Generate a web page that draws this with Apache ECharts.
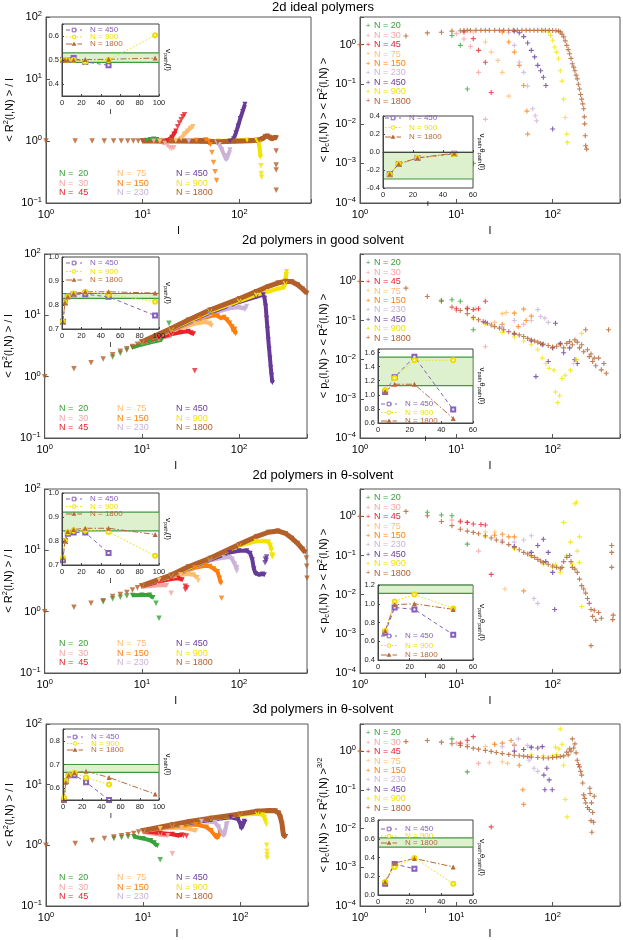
<!DOCTYPE html>
<html>
<head>
<meta charset="UTF-8">
<title>polymer contact scaling</title>
<style type="text/css">
  html, body { margin: 0; padding: 0; background: #fff; }
  #main { width: 623px; height: 940px; }
</style>
</head>
<body>
<div id="main"></div>
<script src="https://cdn.jsdelivr.net/npm/echarts@6/dist/echarts.min.js"></script>
<script type="text/javascript">
// ---------- data ----------
var Ns = [20, 30, 45, 75, 150, 230, 450, 900, 1800];
var legendL = ['N =  20', 'N =  30', 'N =  45', 'N =  75', 'N = 150', 'N = 230', 'N = 450', 'N = 900', 'N = 1800'];
var legendR = ['N = 20', 'N = 30', 'N = 45', 'N = 75', 'N = 150', 'N = 230', 'N = 450', 'N = 900', 'N = 1800'];
var insetNames = ['N = 450', 'N = 900', 'N = 1800'];
var titles = ['2d ideal polymers', '2d polymers in good solvent', '2d polymers in \u03b8-solvent', '3d polymers in \u03b8-solvent'];

// 2d ideal : <R2>/l  (dense part drawn as thick line, sparse points as scatter)
var idealLine = [
  [[10,1.0],[11,1.03],[12,1.06],[13,1.08],[14,1.06]],
  [[10,1.0],[13,1.0],[15,0.98],[17,0.92]],
  [[10,1.0],[15,1.0],[18,1.02],[20,1.15],[21,1.3],[22,1.45]],
  [[15,1.0],[22,1.02],[25,1.1],[27,1.3],[29,1.45],[31,1.6],[33,1.72]],
  [[20,1.0],[36,1.03],[45,1.05],[48,1.0],[50,0.88]],
  [[30,1.0],[58,0.97],[62,0.88],[66,0.72],[70,0.58],[73,0.5],[76,0.58],[80,0.72]],
  [[40,1.0],[80,1.0],[87,1.08],[92,1.35],[97,1.75],[102,2.3],[108,3.0],[114,3.9]],
  [[60,1.0],[120,1.04],[150,1.05],[158,0.95],[162,0.75],[165,0.55]],
  [[10,1.0],[20,1.0],[40,0.99],[60,0.97],[90,0.99],[130,1.01],[160,1.04],[175,1.1],[185,1.18],[195,1.2],[205,1.15],[215,1.08],[225,1.12],[235,1.14],[242,1.12]]
];
var idealPts = [
  [],
  [[18,0.85],[19,0.78],[20,0.76],[21,0.78]],
  [[23,1.7],[24,1.95],[25,2.2],[26,2.45],[27,2.65]],
  [],
  [[52,0.65],[54,0.45],[56,0.32],[58,0.23]],
  [],
  [],
  [[167,0.4],[168,0.3],[170,0.26]],
  [[1,1],[2,1],[3,1],[4,1],[5,1],[6,1],[7,1],[8,1],[9,1],[240,0.69],[240,0.41],[240,0.34],[240,0.16]]
];
var idealCross = [
  [[9,1.7],[11,0.96],[13,0.076],[15,0.001]],
  [[10,1.9],[12,1.4],[14,0.9],[17,0.2],[20,0.013]],
  [[12,2.1],[15,1.42],[17,0.72],[20,0.36],[23,0.062]],
  [[15,2.1],[20,1.17],[23,0.65],[27,0.4],[30,0.2],[35,0.05]],
  [[30,2.1],[35,1.17],[40,0.65],[45,0.3],[50,0.093],[54,0.021],[55,0.0055]],
  [[35,2.0],[40,0.96],[45,0.36],[50,0.2],[55,0.09],[62,0.024],[66,0.016],[68,0.012]],
  [[40,2.2],[45,2.0],[50,1.6],[55,1.1],[60,0.72],[65,0.49],[70,0.3],[75,0.22],[80,0.15],[85,0.093],[100,0.0074]],
  [[80,2.2],[90,2.1],[95,1.7],[100,1.29],[105,0.87],[110,0.65],[115,0.44],[120,0.22],[125,0.12],[130,0.042],[135,0.0145],[140,0.0055],[142,0.0034]],
  [[1,1.0],[3,1.66],[5,1.98],[7,2.06],[9,2.2],[11,2.25],[12,2.28],[13,2.3],[14,2.3],[16,2.3],[18,2.3],[20,2.3],[22,2.3],[25,2.3],[28,2.3],[31,2.3],[35,2.3],[39,2.3],[43,2.3],[48,2.3],[53,2.3],[58,2.3],[64,2.3],[70,2.3],[77,2.3],[84,2.3],[92,2.3],[100,2.28],[108,2.25],[115,2.2],[120,2.1],[125,1.85],[130,1.57],[135,1.25],[140,0.96],[145,0.75],[150,0.59],[155,0.45],[160,0.33],[165,0.27],[170,0.22],[175,0.17],[180,0.137],[185,0.1],[190,0.076],[195,0.055],[200,0.042],[205,0.032],[210,0.024],[213,0.015],[215,0.01],[218,0.005],[220,0.0028],[225,0.0023]]
];
var idealNu = [
  [[1,0.5],[3,0.5],[6,0.5],[12,0.508],[24,0.492],[48,0.478]],
  [[1,0.5],[3,0.5],[6,0.5],[12,0.5],[24,0.493],[48,0.5],[96,0.603]],
  [[1,0.5],[3,0.5],[6,0.5],[12,0.5],[24,0.502],[48,0.503],[96,0.508]]
];
var idealNuBand = [0.49, 0.53];
var idealNuTh = [
  [[4.5,-0.246],[10.5,-0.133],[23,-0.066],[47.5,-0.02]],
  [[4.5,-0.25],[10.5,-0.13],[23,-0.065],[47.5,-0.025]],
  [[4.5,-0.246],[10.5,-0.133],[23,-0.066],[47.5,-0.013]]
];
var idealNuThBand = [-0.3, 0.0];

// 2d good solvent
var goodLine = [
  [[8,3.0],[10,3.35],[12,3.6],[14,3.8],[16,4.0]],
  [[10,3.55],[15,4.2],[20,4.7]],
  [[10,3.6],[15,4.3],[20,4.9],[25,5.3],[30,5.5],[32,5.2],[34,5.0]],
  [[10,3.65],[20,5.6],[35,7.3],[45,7.8],[50,7.4],[52,6.8]],
  [[10,3.65],[20,5.7],[40,8.8],[55,10],[60,9.8],[65,9],[70,9.3],[75,8.5],[80,7.5],[85,6.5],[88,5.5],[90,6],[92,5]],
  [[10,3.65],[20,5.8],[50,10.5],[80,13],[100,13.5],[110,13],[115,12.5],[120,14]],
  [[10,3.68],[20,5.8],[50,11],[100,16.5],[150,20],[177,21.7],[183,19],[188,14],[192,9],[196,6],[200,4],[204,2.8],[208,2],[212,1.4],[216,1.05],[220,0.8]],
  [[10,3.68],[20,5.9],[50,11.5],[100,17],[150,21.5],[200,24.5],[250,27],[290,28.5],[298,33],[302,40],[305,46],[308,52]],
  [[10,3.7],[20,6.1],[30,8.4],[50,12.2],[100,18.6],[150,24.5],[200,29.6],[250,33.6],[300,35.8],[350,35.3],[400,31.5],[450,27],[500,23]]
];
var goodPts = [
  [[5,2.1],[6,2.4],[7,2.7],[19,7.4]],
  [],
  [[35,1.25]],
  [], [], [], [], [],
  [[1,1.0],[2,1.34],[3,1.68],[4,1.95],[5,2.27],[6,2.6],[7,2.86],[8,3.1],[9,3.37]]
];
var goodCross = [
  [[7,0.33],[9,0.34],[11,0.31],[13,0.2],[15,0.058]],
  [[10,0.18],[13,0.22],[16,0.2],[20,0.0214]],
  [[10,0.2],[13,0.2],[15,0.19],[17,0.2],[20,0.31]],
  [[25,0.09],[30,0.15],[33,0.16]],
  [[30,0.08],[40,0.154],[44,0.07],[50,0.195],[53,0.1],[60,0.13]],
  [[30,0.07],[40,0.1],[50,0.08],[60,0.1],[70,0.19],[75,0.127],[83,0.115],[90,0.09]],
  [[20,0.09],[40,0.045],[60,0.03],[67,0.0037],[78,0.024],[90,0.009],[100,0.02],[107,0.085],[120,0.026],[130,0.015],[150,0.02],[170,0.01],[180,0.008]],
  [[15,0.11],[20,0.08],[30,0.05],[40,0.038],[50,0.03],[60,0.024],[70,0.018],[78,0.011],[85,0.008],[92,0.006],[103,0.0054],[107,0.0015],[113,0.0008],[118,0.0012],[125,0.0033],[135,0.004],[153,0.0054],[165,0.008],[178,0.01],[200,0.047]],
  [[1,1.0],[3,0.67],[5,0.41],[7,0.31],[9,0.22],[11,0.18],[13,0.15],[15,0.12],[17,0.105],[19,0.094],[21,0.085],[23,0.077],[25,0.07],[28,0.064],[31,0.058],[35,0.052],[40,0.047],[45,0.043],[50,0.039],[55,0.035],[60,0.032],[65,0.03],[70,0.028],[75,0.026],[80,0.025],[90,0.023],[100,0.021],[110,0.022],[120,0.024],[130,0.02],[140,0.026],[150,0.029],[160,0.024],[170,0.032],[180,0.028],[190,0.02],[200,0.024],[210,0.016],[220,0.058],[230,0.018],[240,0.012],[250,0.014],[260,0.009],[270,0.011],[280,0.007],[300,0.011],[320,0.0055],[340,0.008],[360,0.0045],[380,0.058]]
];
var goodNu = [
  [[1,0.73],[3,0.81],[6,0.835],[12,0.845],[24,0.845],[48,0.834],[96,0.756]],
  [[1,0.73],[3,0.81],[6,0.835],[12,0.848],[24,0.855],[48,0.845],[96,0.814]],
  [[1,0.73],[3,0.81],[6,0.835],[12,0.848],[24,0.855],[48,0.855],[96,0.85]]
];
var goodNuBand = [0.828, 0.848];
var goodNuTh = [
  [[4.5,1.04],[10.5,1.25],[23,1.54],[47.5,0.79]],
  [[4.5,1.07],[10.5,1.24],[23,1.49],[47.5,1.49]],
  [[4.5,1.05],[10.5,1.15],[23,1.15],[47.5,0.665]]
];
var goodNuThBand = [1.13, 1.535];

// 2d theta solvent
var thetaLine = [
  [[8,1.85],[10,1.87],[12,1.87],[13,1.7]],
  [[10,2.55],[15,2.7],[18,2.7]],
  [[10,2.6],[15,3.1],[20,3.4],[24,3.5],[26,3.3]],
  [[10,2.62],[15,3.3],[25,4.0],[30,4.1],[34,4.0],[37,3.6]],
  [[10,2.63],[20,3.75],[35,5.2],[45,5.6],[50,5.5],[55,5.0],[60,4.5],[63,3.5],[65,2.9]],
  [[10,2.63],[20,3.8],[50,6.8],[70,7.6],[80,7.8],[85,7.2],[90,6],[95,5.2]],
  [[10,2.64],[20,3.85],[50,7.0],[80,9.2],[100,9.8],[120,9.8],[130,9],[137,7],[142,5],[148,4.2],[160,4],[175,4.1],[182,4]],
  [[10,2.64],[20,3.9],[50,7.2],[100,12],[150,14],[180,14],[200,13.8],[210,12],[215,10]],
  [[10,2.65],[20,3.96],[30,5.4],[50,7.4],[100,12.5],[150,16.7],[200,19.7],[250,20.7],[300,18.9],[350,15.7],[400,13],[450,10.5],[480,9.3]]
];
var thetaPts = [
  [[4,1.45],[5,1.62],[6,1.72],[7,1.8],[14,1.37],[15,0.78]],
  [[20,2.0]],
  [[28,2.6],[29,2.45],[28,2.3]],
  [[38,3.2]],
  [[66,1.65]],
  [[93,4.9],[95,4.6]],
  [[185,6.3],[187,7.2],[190,6.8],[192,7.8]],
  [[218,8.5],[220,7.8],[222,8.2]],
  [[1,1.0],[2,1.18],[3,1.37],[4,1.5],[5,1.76],[6,1.9],[7,2.05],[8,2.25],[9,2.45],[492,7.5],[496,5.5],[500,3.5]]
];
var thetaCross = [
  [[5,1.27],[7,1.08],[9,1.04],[13,0.195]],
  [[9,0.8],[11,0.72],[13,0.7],[17,0.13]],
  [[11,0.75],[13,0.7],[15,0.64],[18,0.62],[20,0.6],[23,0.033]],
  [[20,0.4],[25,0.4],[32,0.014]],
  [[25,0.33],[30,0.35],[35,0.3],[40,0.3],[50,0.0125]],
  [[30,0.25],[40,0.22],[50,0.25],[60,0.32],[64,0.008],[70,0.006]],
  [[40,0.17],[60,0.12],[70,0.18],[80,0.26],[85,0.07],[90,0.12],[100,0.037],[105,0.0042]],
  [[20,0.3],[40,0.15],[60,0.095],[80,0.06],[100,0.05],[107,0.06],[120,0.037],[130,0.7],[140,0.1],[153,0.22],[160,0.06],[170,2.1],[177,2.3],[180,0.13],[189,0.066],[190,0.3],[200,0.005]],
  [[1,1.0],[3,1.34],[5,1.04],[7,0.74],[9,0.58],[11,0.47],[13,0.42],[15,0.39],[17,0.36],[20,0.32],[23,0.28],[26,0.25],[30,0.22],[35,0.19],[40,0.16],[45,0.14],[50,0.12],[55,0.11],[60,0.1],[65,0.09],[70,0.08],[75,0.072],[80,0.066],[90,0.06],[100,0.054],[110,0.05],[120,0.046],[125,0.05],[130,0.07],[140,0.09],[150,0.1],[155,0.07],[160,0.05],[170,0.045],[180,0.037],[190,0.025],[200,0.017],[210,0.014],[220,0.011],[230,0.008],[240,0.006],[250,0.0042],[260,0.0028],[270,0.004],[280,0.0022],[300,0.0035],[320,0.0025],[250,0.0005],[410,0.18],[410,0.12],[410,0.05],[420,0.0023],[425,0.003]]
];
var thetaNu = [
  [[1,0.72],[3,0.8],[6,0.83],[12,0.835],[24,0.835],[48,0.75]],
  [[1,0.73],[3,0.8],[6,0.835],[12,0.845],[24,0.845],[48,0.838],[96,0.739]],
  [[1,0.73],[3,0.8],[6,0.84],[12,0.848],[24,0.853],[48,0.853],[96,0.827]]
];
var thetaNuBand = [0.842, 0.92];
var thetaNuTh = [
  [[4.5,0.69],[10.5,0.96],[23,0.94],[47.5,0.67]],
  [[4.5,0.71],[10.5,1.025],[23,1.1],[47.5,0.95]],
  [[4.5,0.71],[10.5,0.99],[23,1.0],[47.5,0.94]]
];
var thetaNuThBand = [1.11, 1.2];

// 3d theta solvent
var theta3Line = [
  [[8,1.4],[10,1.3],[12,1.2],[13,1.1],[14,0.98]],
  [[10,1.65],[15,1.5],[18,1.45]],
  [[10,1.7],[15,1.6],[20,1.52],[23,1.45],[25,1.48]],
  [[10,1.72],[15,1.9],[25,1.95],[30,1.85],[35,1.75]],
  [[10,1.74],[20,2.05],[35,2.2],[45,2.0],[50,1.75],[55,1.45],[58,1.32],[60,1.38],[62,1.6]],
  [[10,1.75],[20,2.1],[40,2.5],[55,2.4],[60,2.0],[64,1.6],[68,1.45],[70,1.7],[72,2.2],[74,2.3]],
  [[10,1.75],[20,2.12],[50,2.65],[80,2.9],[95,2.7],[100,2.3],[103,1.9],[106,2.1],[110,2.5],[112,2.4]],
  [[10,1.76],[20,2.15],[50,2.75],[100,3.2],[150,3.3],[170,3.2],[178,2.9],[183,2.5]],
  [[10,1.76],[20,2.18],[30,2.47],[50,2.8],[100,3.3],[150,3.65],[200,3.75],[230,3.7],[250,3.4],[260,2.9],[270,2.27],[275,1.76],[280,1.46],[285,1.37],[295,1.4]]
];
var theta3Pts = [
  [[5,1.3],[6,1.35],[7,1.38],[15,0.58]],
  [[20,0.73]],
  [[26,1.45],[28,1.42]],
  [], [], [], [],
  [[186,2.2],[188,1.0],[189,0.8],[190,0.7],[190,0.62]],
  [[1,1.0],[2,1.07],[3,1.2],[4,1.29],[5,1.37],[6,1.44],[7,1.5],[8,1.57],[9,1.66]]
];
var theta3Cross = [
  [[9,2.06],[13,0.29]],
  [[10,1.6],[13,1.5],[17,0.48]],
  [[11,1.6],[13,1.9],[15,2.36],[23,0.011]],
  [[20,1.3],[22,0.5],[25,1.5],[30,0.53],[34,0.48]],
  [[25,1.5],[30,1.6],[37,1.87],[40,1.4],[45,0.43],[49,0.1],[50,0.042]],
  [[30,1.3],[40,1.5],[44,2.06],[55,1.4],[57,0.58],[60,1.2],[64,0.36],[70,0.3]],
  [[40,1.0],[50,1.1],[60,1.26],[70,1.2],[78,1.3],[81,0.24],[83,0.1],[87,0.36],[92,0.18],[99,0.1]],
  [[60,0.8],[80,0.75],[100,0.75],[107,1.26],[110,0.8],[116,1.14],[120,3.7],[125,1.5],[130,0.43],[135,0.056],[141,0.02]],
  [[1,1.0],[3,1.76],[5,1.87],[7,1.7],[9,1.54],[11,1.4],[13,1.3],[15,1.19],[17,1.12],[20,1.04],[23,0.98],[26,0.92],[30,0.86],[35,0.82],[40,0.78],[45,0.76],[50,0.74],[55,0.72],[60,0.7],[70,0.68],[80,0.66],[90,0.66],[100,0.68],[110,0.7],[120,0.72],[130,0.75],[140,0.94],[145,0.8],[150,1.14],[155,1.0],[160,2.06],[165,1.2],[170,1.53],[175,0.9],[180,0.58],[185,0.45],[190,0.39],[195,0.3],[200,0.24],[205,0.15],[210,0.074],[215,0.06],[220,0.046],[230,0.035],[240,0.031],[243,0.11],[245,0.08],[250,0.016],[253,0.046],[255,0.008],[260,0.026],[266,0.0145],[270,0.068]]
];
var theta3Nu = [
  [[1,0.55],[3,0.63],[6,0.655],[12,0.655],[24,0.625],[48,0.55]],
  [[1,0.56],[3,0.63],[6,0.655],[12,0.665],[24,0.645],[48,0.615]],
  [[1,0.55],[3,0.625],[6,0.655],[12,0.665],[24,0.672],[48,0.645],[96,0.575]]
];
var theta3NuBand = [0.667, 0.70];
var theta3NuTh = [
  [[4.5,0.12],[10.5,0.33],[23,0.28]],
  [[4.5,0.14],[10.5,0.30],[23,0.395],[47.5,0.12]],
  [[4.5,0.14],[10.5,0.34],[23,0.39],[47.5,0.30]]
];
var theta3NuThBand = [0.51, 0.61];

// ---------- style / layout ----------
var FONT = '"Liberation Sans", Arial, Helvetica, sans-serif';
var COLORS = ['#38a338', '#f8a3a3', '#e8232a', '#fdbd6e', '#ff7f0e', '#cbb3d8', '#673a99', '#f3e300', '#b35f2a'];
var INSET_COLORS = ['#8560bd', '#eedf00', '#b8693a'];
var INSET_STYLE = [
  { dash: [4, 3], symbol: 'emptyRect', size: 4 },
  { dash: [1.5, 2], symbol: 'emptyCircle', size: 4 },
  { dash: [6, 2, 1.5, 2], symbol: 'triangle', size: 5 }
];
var PLUS = 'path://M3.1,0H4.9V3.1H8V4.9H4.9V8H3.1V4.9H0V3.1H3.1Z';

var panels = [
  { line: idealLine, pts: idealPts, cross: idealCross, nu: idealNu, nuBand: idealNuBand, nuTh: idealNuTh, nuThBand: idealNuThBand },
  { line: goodLine, pts: goodPts, cross: goodCross, nu: goodNu, nuBand: goodNuBand, nuTh: goodNuTh, nuThBand: goodNuThBand },
  { line: thetaLine, pts: thetaPts, cross: thetaCross, nu: thetaNu, nuBand: thetaNuBand, nuTh: thetaNuTh, nuThBand: thetaNuThBand },
  { line: theta3Line, pts: theta3Pts, cross: theta3Cross, nu: theta3Nu, nuBand: theta3NuBand, nuTh: theta3NuTh, nuThBand: theta3NuThBand }
];

var layout = [
  { titleY: 7, top: 17, h: 186, lx: 46, lw: 265, lxmax: 550,
    insL: { x: 62, y: 24, w: 97, h: 72, min: 0.35, max: 0.65 },
    insR: { x: 383, y: 116, w: 90, h: 72, min: -0.4, max: 0.4, interval: 0.2 },
    legL: [30, 37, 44], legR: [118, 127.5, 137], legRx: 385 },
  { titleY: 240, top: 254, h: 184, lx: 44, lw: 263, lxmax: 500,
    insL: { x: 62, y: 257, w: 97, h: 72, min: 0.7, max: 1.0, interval: 0.1 },
    insR: { x: 378, y: 349, w: 95, h: 74, min: 0.6, max: 1.65, interval: 0.2 },
    legL: [263, 271.5, 280], legR: [404, 412.5, 421], legRx: 381 },
  { titleY: 475, top: 489, h: 184, lx: 44, lw: 263, lxmax: 500,
    insL: { x: 62, y: 493, w: 97, h: 72, min: 0.7, max: 1.0, interval: 0.1 },
    insR: { x: 378, y: 585, w: 95, h: 75, min: 0.4, max: 1.2, interval: 0.2 },
    legL: [499, 506.5, 514], legR: [636, 645.5, 655], legRx: 381 },
  { titleY: 709, top: 724, h: 183, lx: 46, lw: 262, lxmax: 500,
    insL: { x: 63, y: 729, w: 96, h: 71, min: 0.55, max: 0.85 },
    insR: { x: 378, y: 820, w: 95, h: 75, min: 0, max: 0.8, interval: 0.2 },
    legL: [737, 743.5, 750], legR: [829, 836, 843], legRx: 381 }
];

var RX = 360, RW = 262;
var rightNames = [
  '< p{d|c}(l,N) > < R{s|2}(l,N) >',
  '< p{d|c}(l,N) > < R{s|2}(l,N) >',
  '< p{d|c}(l,N) > < R{s|2}(l,N) >',
  '< p{d|c}(l,N) > < R{s|2}(l,N) >{s|3/2}'
];

var RICH = {
  b: { fontSize: 11, lineHeight: 14, fontFamily: FONT, color: '#000' },
  s: { fontSize: 7.5, lineHeight: 8, verticalAlign: 'top', fontFamily: FONT, color: '#000' },
  d: { fontSize: 7.5, lineHeight: 8, verticalAlign: 'bottom', fontFamily: FONT, color: '#000' }
};
var RICH_SMALL = {
  p: { fontSize: 5.5, lineHeight: 6, verticalAlign: 'bottom', fontFamily: FONT, color: '#000' }
};

function powLabel(v) {
  var e = Math.log10(v), r = Math.round(e);
  if (Math.abs(e - r) > 1e-6) return '';
  return '{b|10}{s|' + (r < 0 ? '\u2212' + (-r) : r) + '}';
}
function decLabel(v) {
  var t = Math.round(v * 10);
  if (Math.abs(v * 10 - t) > 1e-6) return '';
  return (t / 10).toFixed(1);
}

function mainX(gi, max) {
  return {
    type: 'log', gridIndex: gi, min: 1, max: max,
    name: 'l', nameLocation: 'middle', nameGap: 22,
    nameTextStyle: { fontSize: 11, color: '#000', fontFamily: FONT },
    axisLine: { lineStyle: { color: '#555', width: 1 } },
    axisTick: { inside: true, length: 4, lineStyle: { color: '#555' } },
    axisLabel: { formatter: powLabel, rich: RICH, margin: 5 },
    splitLine: { show: false }
  };
}
function mainY(gi, min, max, name) {
  return {
    type: 'log', gridIndex: gi, min: min, max: max,
    name: name, nameLocation: 'middle', nameGap: 28,
    nameTextStyle: { fontSize: 11, lineHeight: 15, color: '#000', fontFamily: FONT, rich: RICH },
    axisLine: { lineStyle: { color: '#555', width: 1 } },
    axisTick: { inside: true, length: 4, lineStyle: { color: '#555' } },
    axisLabel: { formatter: powLabel, rich: RICH, margin: 4 },
    splitLine: { show: false }
  };
}
function insetX(gi, max) {
  return {
    type: 'value', gridIndex: gi, min: 0, max: max, interval: 20, z: 6,
    name: 'l', nameLocation: 'middle', nameGap: 10,
    nameTextStyle: { fontSize: 8, color: '#000', fontFamily: FONT },
    axisLine: { lineStyle: { color: '#444', width: 1 } },
    axisTick: { inside: true, length: 2, lineStyle: { color: '#444' } },
    axisLabel: { fontSize: 7.5, margin: 3, color: '#222', fontFamily: FONT },
    splitLine: { show: false }
  };
}
function insetY(gi, c) {
  var o = {
    type: 'value', gridIndex: gi, min: c.min, max: c.max, z: 6,
    axisLine: { lineStyle: { color: '#444', width: 1 } },
    axisTick: { inside: true, length: 2, lineStyle: { color: '#444' } },
    axisLabel: { fontSize: 7.5, margin: 3, color: '#222', fontFamily: FONT, formatter: decLabel },
    splitLine: { show: false }
  };
  if (c.interval) o.interval = c.interval; else o.splitNumber = 3;
  return o;
}
function nameAxis(gi, name) {
  return {
    type: 'value', gridIndex: gi, position: 'right', min: 0, max: 1, z: 6,
    axisLine: { show: false }, axisTick: { show: false }, axisLabel: { show: false }, splitLine: { show: false },
    name: name, nameLocation: 'middle', nameRotate: -90, nameGap: 4,
    nameTextStyle: { fontSize: 8, lineHeight: 10, color: '#000', fontFamily: FONT, rich: RICH_SMALL }
  };
}

var grids = [], xAxes = [], yAxes = [], series = [], gfx = [];

layout.forEach(function (L, r) {
  var g = 4 * r, P = panels[r];
  grids.push({ left: L.lx, top: L.top, width: L.lw, height: L.h, show: true, borderColor: '#555', borderWidth: 1 });
  grids.push({ left: RX, top: L.top, width: RW, height: L.h, show: true, borderColor: '#555', borderWidth: 1 });
  [L.insL, L.insR].forEach(function (c) {
    grids.push({ left: c.x, top: c.y, width: c.w, height: c.h, show: true, z: 3,
      borderColor: '#444', borderWidth: 1, backgroundColor: '#fff' });
  });
  xAxes.push(mainX(g, L.lxmax), mainX(g + 1, 500), insetX(g + 2, 100), insetX(g + 3, 60));
  yAxes.push(mainY(g, 0.1, 100, '< R{s|2}(l,N) > / l'), mainY(g + 1, 1e-4, 5, rightNames[r]),
    insetY(g + 2, L.insL), insetY(g + 3, L.insR));

  // main left: <R2>/l, triangles
  for (var k = 0; k < Ns.length; k++) {
    var c = COLORS[k];
    if (P.line[k].length) series.push({
      type: 'line', xAxisIndex: g, yAxisIndex: g, data: P.line[k], z: 2, silent: true,
      symbol: 'triangle', symbolRotate: 180, symbolSize: 5,
      lineStyle: { color: c, width: k === 8 ? 5 : 4 }, itemStyle: { color: c }
    });
    if (P.pts[k].length) series.push({
      type: 'scatter', xAxisIndex: g, yAxisIndex: g, data: P.pts[k], z: 2, silent: true,
      symbol: 'triangle', symbolRotate: 180, symbolSize: 5.5, itemStyle: { color: c }
    });
  }
  // main right: crosses
  for (var k2 = 0; k2 < Ns.length; k2++) {
    series.push({
      type: 'scatter', xAxisIndex: g + 1, yAxisIndex: g + 1, data: P.cross[k2], z: 2, silent: true,
      symbol: PLUS, symbolSize: 5, itemStyle: { color: COLORS[k2] }
    });
  }
  // insets
  [[g + 2, P.nu, P.nuBand, 100], [g + 3, P.nuTh, P.nuThBand, 60]].forEach(function (it) {
    var gi = it[0], band = it[2], xm = it[3];
    series.push({
      type: 'line', xAxisIndex: gi, yAxisIndex: gi, data: [[0, band[0]], [xm, band[0]]], z: 4, silent: true,
      symbol: 'none', lineStyle: { color: '#3f9a3f', width: 1.2 },
      markArea: { silent: true, z: 4, itemStyle: { color: 'rgba(190,228,160,0.5)' },
        data: [[{ yAxis: band[0] }, { yAxis: band[1] }]] }
    });
    series.push({
      type: 'line', xAxisIndex: gi, yAxisIndex: gi, data: [[0, band[1]], [xm, band[1]]], z: 4, silent: true,
      symbol: 'none', lineStyle: { color: '#3f9a3f', width: 1.2 }
    });
    it[1].forEach(function (d, j) {
      var st = INSET_STYLE[j], col = INSET_COLORS[j];
      series.push({
        type: 'line', xAxisIndex: gi, yAxisIndex: gi, data: d, z: 5, silent: true,
        symbol: st.symbol, symbolSize: st.size,
        lineStyle: { color: col, width: 1, type: st.dash }, itemStyle: { color: col }
      });
    });
  });

  // title
  gfx.push({ type: 'text', x: 323, y: L.titleY, z: 10,
    style: { text: titles[r], fill: '#000', fontSize: 13, fontFamily: FONT, textAlign: 'center', textVerticalAlign: 'middle' } });
  // left legend (3 columns of coloured text)
  var bottom = L.top + L.h, colX = [59, 117, 176], rowY = [bottom - 29, bottom - 19.5, bottom - 10];
  for (var m = 0; m < 9; m++) {
    gfx.push({ type: 'text', x: colX[Math.floor(m / 3)], y: rowY[m % 3], z: 10,
      style: { text: legendL[m], fill: COLORS[m], fontSize: 9, fontFamily: FONT, textVerticalAlign: 'middle' } });
  }
  // right legend (cross + text)
  for (var n = 0; n < 9; n++) {
    var yy = L.top + 9 + n * 9.4;
    gfx.push({ type: 'text', x: 368, y: yy, z: 10,
      style: { text: '+', fill: COLORS[n], fontSize: 8, fontFamily: FONT, textAlign: 'center', textVerticalAlign: 'middle' } });
    gfx.push({ type: 'text', x: 374, y: yy, z: 10,
      style: { text: legendR[n], fill: COLORS[n], fontSize: 9, fontFamily: FONT, textVerticalAlign: 'middle' } });
  }
  // inset legends
  [[L.insL.x + 4, L.legL], [L.legRx, L.legR]].forEach(function (lg) {
    var x0 = lg[0];
    lg[1].forEach(function (yy, j) {
      var col = INSET_COLORS[j], xm = x0 + 8;
      gfx.push({ type: 'line', z: 10, shape: { x1: x0, y1: yy, x2: x0 + 16, y2: yy },
        style: { stroke: col, lineWidth: 1, lineDash: INSET_STYLE[j].dash } });
      if (j === 0) gfx.push({ type: 'rect', z: 11, shape: { x: xm - 1.8, y: yy - 1.8, width: 3.6, height: 3.6 }, style: { fill: '#fff', stroke: col, lineWidth: 1 } });
      if (j === 1) gfx.push({ type: 'circle', z: 11, shape: { cx: xm, cy: yy, r: 1.8 }, style: { fill: '#fff', stroke: col, lineWidth: 1 } });
      if (j === 2) gfx.push({ type: 'polygon', z: 11, shape: { points: [[xm, yy - 2.4], [xm - 2.4, yy + 1.8], [xm + 2.4, yy + 1.8]] }, style: { fill: col } });
      gfx.push({ type: 'text', x: x0 + 24, y: yy, z: 11,
        style: { text: insetNames[j], fill: col, fontSize: 8, fontFamily: FONT, textVerticalAlign: 'middle' } });
    });
  });
});

// right-hand names of the insets
layout.forEach(function (L, r) {
  yAxes.push(nameAxis(4 * r + 2, '\u03bd{p|path}(l)'));
  yAxes.push(nameAxis(4 * r + 3, '\u03bd{p|path}\u03b8{p|path}(l)'));
});

var option = {
  animation: false,
  backgroundColor: '#fff',
  textStyle: { fontFamily: FONT },
  grid: grids,
  xAxis: xAxes,
  yAxis: yAxes,
  series: series,
  graphic: { elements: gfx }
};

var chart = echarts.init(document.getElementById('main'), null, { renderer: 'canvas' });
chart.setOption(option);
</script>
</body>
</html>
